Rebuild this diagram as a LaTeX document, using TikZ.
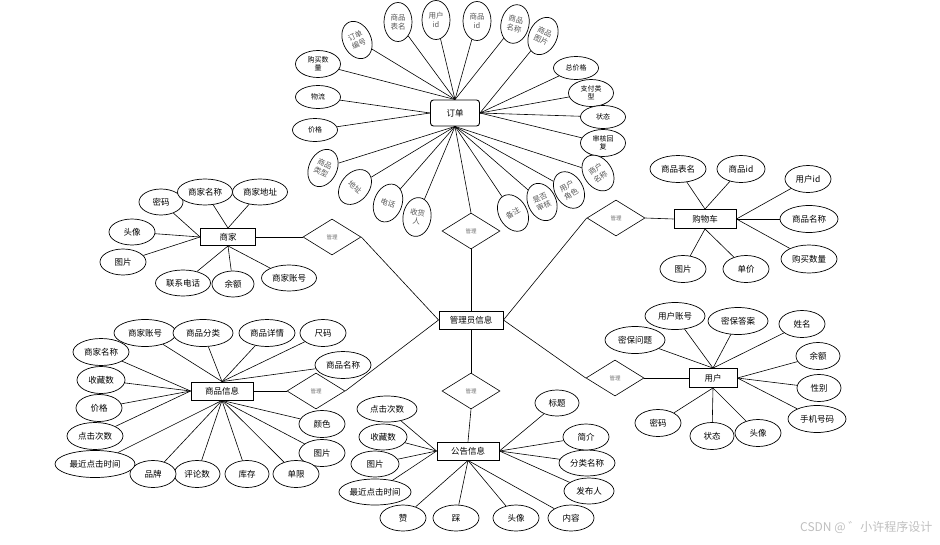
\documentclass[tikz,border=0pt]{standalone}
\usepackage{fontspec}
\setmainfont{Noto Sans CJK SC}
\usetikzlibrary{shapes.geometric,positioning}
\tikzstyle{entity} = [rectangle, draw=black, line width=0.9pt, fill=white, minimum width=62pt, minimum height=18pt, inner sep=1pt, font=\fontsize{8.5}{9}\selectfont]
\tikzstyle{attr} = [ellipse, draw=black, line width=0.7pt, fill=white, minimum width=46pt, minimum height=26pt, inner sep=0pt, align=center, font=\fontsize{8.5}{9}\selectfont]
\tikzstyle{oattr} = [attr, minimum width=45pt, minimum height=23pt, font=\fontsize{7}{8}\selectfont]
\tikzstyle{vattr} = [ellipse, draw=black, line width=0.7pt, fill=white, minimum width=28pt, minimum height=39pt, inner sep=0pt, align=center, text=black!65, font=\fontsize{7.5}{9}\selectfont]
\tikzstyle{rel} = [diamond, draw=black, line width=0.6pt, fill=white, minimum width=58pt, minimum height=36pt, inner sep=0pt, text=black!55, font=\fontsize{5.5}{6}\selectfont]

\begin{document}
\begin{tikzpicture}[x=1pt,y=-1pt,line width=0.6pt]
    \useasboundingbox (0,0) rectangle (940,544);

    % entities
    \node[entity,minimum width=64pt] (Admin) at (471,320) {管理员信息};
    \node[entity,minimum width=49pt,minimum height=26pt,rounded corners=3pt] (Order) at (455,113) {订单};
    \node[entity,minimum width=55pt,minimum height=17pt] (Shop) at (228,237) {商家};
    \node[entity,minimum height=19pt] (Cart) at (705,219) {购物车};
    \node[entity] (Goods) at (222,391) {商品信息};
    \node[entity,minimum width=48pt,minimum height=19pt] (User) at (713,378) {用户};
    \node[entity] (Notice) at (468,451) {公告信息};

    % relations
    \node[rel] (RelOrder) at (471,231) {管理};
    \node[rel] (RelShop) at (332,237) {管理};
    \node[rel] (RelCart) at (616,218) {管理};
    \node[rel] (RelGoods) at (316,391) {管理};
    \node[rel] (RelUser) at (615,378) {管理};
    \node[rel] (RelNotice) at (471,391) {管理};

    \path (Order.south) edge (RelOrder.north)
          (RelOrder.south) edge (Admin.north)
          (Shop.east) edge (RelShop.west)
          (RelShop.east) edge (Admin.west)
          (Cart.west) edge (RelCart.east)
          (RelCart.west) edge (Admin.east)
          (Goods.east) edge (RelGoods.west)
          (RelGoods.east) edge (Admin.west)
          (User.west) edge (RelUser.east)
          (RelUser.west) edge (Admin.east)
          (Admin.south) edge (RelNotice.north)
          (RelNotice.south) edge (Notice.north);

    % order attributes
    \node[oattr,minimum height=27pt] (oNum) at (318,64) {购买数\\量};
    \node[oattr] (oShip) at (318,97) {物流};
    \node[oattr] (oPrice) at (315,130) {价格};
    \node[oattr] (oTotal) at (576,68) {总价格};
    \node[oattr,minimum height=27pt] (oPay) at (591,93) {支付类\\型};
    \node[oattr] (oState) at (603,117) {状态};
    \node[oattr,minimum height=27pt] (oReply) at (603,143) {审核回\\复};
    \node[vattr,rotate=25] (oId) at (357,40) {订单\\编号};
    \node[vattr] (oTable) at (398,22) {商品\\表名};
    \node[vattr] (oUid) at (436,20) {用户\\id};
    \node[vattr] (oGid) at (477,21) {商品\\id};
    \node[vattr,rotate=-12] (oGname) at (515,24) {商品\\名称};
    \node[vattr,rotate=-25] (oGpic) at (543,36) {商品\\图片};
    \node[vattr,rotate=-25] (oType) at (323,168) {商品\\类型};
    \node[vattr,rotate=-40] (oAddr) at (355,187) {地址};
    \node[vattr,rotate=-20] (oTel) at (388,203) {电话};
    \node[vattr,rotate=-8] (oRecv) at (417,217) {收货\\人};
    \node[vattr,rotate=30] (oNote) at (513,213) {备注};
    \node[vattr,rotate=25] (oCheck) at (542,202) {是否\\审核};
    \node[vattr,rotate=30] (oRole) at (569,190) {用户\\角色};
    \node[vattr,rotate=35] (oShop) at (598,173) {商户\\名称};

    \path (Order.north) edge (oNum) edge (oId) edge (oTable) edge (oUid) edge (oGid) edge (oGname)
          (Order.east) edge (oGpic) edge (oTotal) edge (oPay) edge (oState) edge (oReply)
          (Order.west) edge (oShip) edge (oPrice)
          (Order.south) edge (oType) edge (oAddr) edge (oTel) edge (oRecv)
          edge (oNote) edge (oCheck) edge (oRole) edge (oShop);

    % shop attributes
    \node[attr,minimum width=44pt] (sPwd) at (161,202) {密码};
    \node[attr,minimum width=55pt] (sName) at (205,192) {商家名称};
    \node[attr,minimum width=55pt] (sAddr) at (260,192) {商家地址};
    \node[attr] (sHead) at (132,232) {头像};
    \node[attr] (sPic) at (123,262) {图片};
    \node[attr,minimum width=55pt] (sTel) at (183,283) {联系电话};
    \node[attr,minimum width=42pt] (sMoney) at (233,284) {余额};
    \node[attr,minimum width=55pt] (sAcc) at (289,278) {商家账号};

    \path (Shop.north) edge (sName) edge (sAddr)
          (Shop.west) edge (sPwd) edge (sHead) edge (sPic)
          (Shop.south) edge (sTel) edge (sMoney) edge (sAcc);

    % cart attributes
    \node[attr,minimum width=56pt,minimum height=27pt] (cTable) at (678,169) {商品表名};
    \node[attr,minimum width=48pt,minimum height=27pt] (cGid) at (741,169) {商品id};
    \node[attr,minimum height=27pt] (cUid) at (808,179) {用户id};
    \node[attr,minimum width=58pt,minimum height=27pt] (cName) at (809,219) {商品名称};
    \node[attr,minimum width=56pt,minimum height=28pt] (cNum) at (809,259) {购买数量};
    \node[attr,minimum height=27pt] (cUnit) at (746,269) {单价};
    \node[attr,minimum height=27pt] (cPic) at (683,269) {图片};

    \path (Cart.north) edge (cTable) edge (cGid)
          (Cart.east) edge (cUid) edge (cName) edge (cNum)
          (Cart.south) edge (cUnit) edge (cPic);

    % goods attributes
    \node[attr,minimum width=62pt,minimum height=27pt] (gAcc) at (145,333) {商家账号};
    \node[attr,minimum width=60pt,minimum height=27pt] (gCat) at (203,333) {商品分类};
    \node[attr,minimum width=56pt,minimum height=27pt] (gInfo) at (267,333) {商品详情};
    \node[attr,minimum height=27pt] (gSize) at (323,333) {尺码};
    \node[attr,minimum width=56pt,minimum height=27pt] (gName) at (343,365) {商品名称};
    \node[attr,minimum height=27pt] (gColor) at (322,424) {颜色};
    \node[attr,minimum height=27pt] (gPic) at (322,453) {图片};
    \node[attr,minimum height=27pt] (gLimit) at (296,474) {单限};
    \node[attr,minimum width=44pt,minimum height=27pt] (gStock) at (247,474) {库存};
    \node[attr,minimum height=27pt] (gComm) at (197,474) {评论数};
    \node[attr,minimum height=27pt] (gBrand) at (153,474) {品牌};
    \node[attr,minimum width=80pt,minimum height=27pt] (gLast) at (95,464) {最近点击时间};
    \node[attr,minimum width=56pt,minimum height=27pt] (gClick) at (95,436) {点击次数};
    \node[attr,minimum height=27pt] (gPrice) at (99,408) {价格};
    \node[attr,minimum width=48pt,minimum height=27pt] (gFav) at (101,380) {收藏数};
    \node[attr,minimum width=56pt,minimum height=27pt] (gShop) at (101,352) {商家名称};

    \path (Goods.north) edge (gAcc) edge (gCat) edge (gInfo) edge (gSize) edge (gName)
          (Goods.west) edge (gShop) edge (gFav) edge (gPrice) edge (gClick)
          (Goods.south) edge (gLast) edge (gBrand) edge (gComm) edge (gStock)
          edge (gLimit) edge (gPic) edge (gColor);

    % notice attributes
    \node[attr,minimum width=60pt] (nClick) at (387,409) {点击次数};
    \node[attr,minimum width=48pt] (nFav) at (383,437) {收藏数};
    \node[attr,minimum width=48pt] (nPic) at (375,464) {图片};
    \node[attr,minimum width=70pt] (nLast) at (375,492) {最近点击时间};
    \node[attr] (nUp) at (403,518) {赞};
    \node[attr] (nDown) at (456,518) {踩};
    \node[attr] (nHead) at (516,518) {头像};
    \node[attr] (nText) at (571,518) {内容};
    \node[attr,minimum width=50pt] (nAuthor) at (589,491) {发布人};
    \node[attr,minimum width=56pt] (nCat) at (587,463) {分类名称};
    \node[attr] (nBrief) at (586,437) {简介};
    \node[attr,minimum width=44pt] (nTitle) at (557,403) {标题};

    \path (Notice.west) edge (nClick) edge (nFav) edge (nPic) edge (nLast)
          (Notice.south) edge (nUp) edge (nDown) edge (nHead) edge (nText)
          (Notice.east) edge (nAuthor) edge (nCat) edge (nBrief) edge (nTitle);

    % user attributes
    \node[attr,minimum width=60pt,minimum height=27pt] (uAcc) at (675,316) {用户账号};
    \node[attr,minimum width=60pt,minimum height=27pt] (uAns) at (738,321) {密保答案};
    \node[attr,minimum height=27pt] (uName) at (802,324) {姓名};
    \node[attr,minimum width=44pt,minimum height=27pt] (uMoney) at (818,356) {余额};
    \node[attr,minimum width=44pt,minimum height=27pt] (uSex) at (819,388) {性别};
    \node[attr,minimum width=58pt,minimum height=27pt] (uTel) at (817,419) {手机号码};
    \node[attr,minimum height=27pt] (uHead) at (758,433) {头像};
    \node[attr,minimum width=44pt,minimum height=27pt] (uState) at (712,436) {状态};
    \node[attr,minimum height=27pt] (uPwd) at (658,423) {密码};
    \node[attr,minimum width=60pt,minimum height=27pt] (uQues) at (635,340) {密保问题};

    \path (User.north) edge (uAcc) edge (uAns) edge (uName) edge (uQues)
          (User.east) edge (uMoney) edge (uSex) edge (uTel)
          (User.south) edge (uHead) edge (uState) edge (uPwd);

    \node[anchor=east,text=black!25,font=\fontsize{12}{12}\selectfont] (mark) at (936,527) {CSDN @ ゛小许程序设计};
\end{tikzpicture}
\end{document}
